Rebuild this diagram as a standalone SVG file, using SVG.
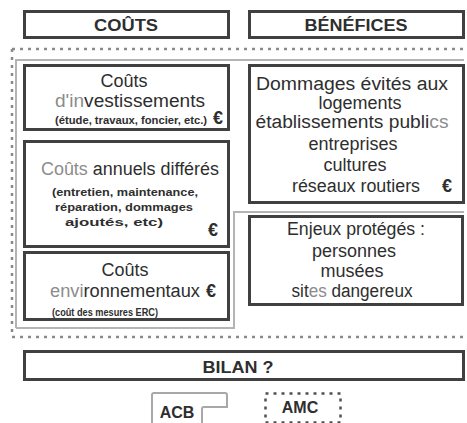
<svg xmlns="http://www.w3.org/2000/svg" width="467" height="423" viewBox="0 0 467 423">
<style>
text{font-family:"Liberation Sans",Arial,sans-serif;fill:#2e2e2e;text-anchor:middle}
.box{fill:#fff;stroke:#404040;stroke-width:3}
.hd{font-weight:bold;font-size:16px}
.t{font-size:18px}
.s{font-size:11px;font-weight:bold}
.eur{font-size:18px;font-weight:bold}
.lt{fill:#8c8c8c}
.frame{fill:none;stroke:#b4b4b4;stroke-width:2}
.dot{fill:none;stroke:#8a8a8a;stroke-width:2.5;stroke-dasharray:3 5}
</style>
<rect width="467" height="423" fill="#fff"/>
<g id="frames">
<path class="dot" d="M12,49 H465 M12,49 V337 M12,337 H465"/>
<path class="frame" d="M16,328 V60 H464 M16,328 H234 V212 H464"/>
</g>
<g id="couts-header">
<rect class="box" x="24.5" y="11.5" width="204" height="26"/>
<text class="hd" x="126" y="31" textLength="64" lengthAdjust="spacingAndGlyphs">COÛTS</text>
</g>
<g id="benefices-header">
<rect class="box" x="249.5" y="11.5" width="214" height="26"/>
<text class="hd" x="356" y="31" textLength="103" lengthAdjust="spacingAndGlyphs">BÉNÉFICES</text>
</g>
<g id="couts-investissement">
<rect class="box" x="24.5" y="65.5" width="204" height="64"/>
<text class="t" x="124" y="87" font-size="17">Coûts</text>
<text class="t" x="130" y="107" textLength="150" lengthAdjust="spacingAndGlyphs"><tspan class="lt">d'in</tspan>vestissements</text>
<text class="s" x="131" y="124" textLength="152" lengthAdjust="spacingAndGlyphs">(étude, travaux, foncier, etc.)</text>
<text class="eur" x="218" y="124">€</text>
</g>
<g id="couts-annuels">
<rect class="box" x="24.5" y="141.5" width="204" height="105"/>
<text class="t" x="130" y="175" textLength="178" lengthAdjust="spacingAndGlyphs"><tspan class="lt">Coûts</tspan> annuels différés</text>
<text class="s" x="125" y="196" textLength="146" lengthAdjust="spacingAndGlyphs">(entretien, maintenance,</text>
<text class="s" x="124" y="211" textLength="138" lengthAdjust="spacingAndGlyphs">réparation, dommages</text>
<text class="s" x="114" y="226" textLength="98" lengthAdjust="spacingAndGlyphs">ajoutés, etc)</text>
<text class="eur" x="213" y="236">€</text>
</g>
<g id="couts-environnementaux">
<rect class="box" x="24.5" y="252.5" width="204" height="67"/>
<text class="t" x="125" y="276" font-size="17">Coûts</text>
<text class="t" x="125" y="297" textLength="150" lengthAdjust="spacingAndGlyphs"><tspan class="lt">envi</tspan>ronnementaux</text>
<text class="eur" x="211" y="297">€</text>
<text class="s" x="105" y="316" textLength="106" lengthAdjust="spacingAndGlyphs">(coût des mesures ERC)</text>
</g>
<g id="dommages-evites">
<rect class="box" x="249.5" y="65.5" width="214" height="137"/>
<text class="t" x="352" y="90" textLength="192" lengthAdjust="spacingAndGlyphs">Dommages évités aux</text>
<text class="t" x="360" y="109">logements</text>
<text class="t" x="352" y="128" textLength="193" lengthAdjust="spacingAndGlyphs">établissements publi<tspan class="lt">cs</tspan></text>
<text class="t" x="353" y="150">entreprises</text>
<text class="t" x="355" y="171">cultures</text>
<text class="t" x="356" y="192" textLength="128" lengthAdjust="spacingAndGlyphs">réseaux routiers</text>
<text class="eur" x="447" y="192">€</text>
</g>
<g id="enjeux-proteges">
<rect class="box" x="249.5" y="216.5" width="213" height="88"/>
<text class="t" x="356" y="235" textLength="138" lengthAdjust="spacingAndGlyphs">Enjeux protégés :</text>
<text class="t" x="354" y="257">personnes</text>
<text class="t" x="352" y="277">musées</text>
<text class="t" x="352" y="297" textLength="121" lengthAdjust="spacingAndGlyphs">sit<tspan class="lt">es</tspan> dangereux</text>
</g>
<g id="bilan">
<rect class="box" x="24.5" y="351.5" width="439" height="28"/>
<text class="hd" x="238" y="373" textLength="71" lengthAdjust="spacingAndGlyphs">BILAN ?</text>
</g>
<g id="acb">
<path d="M152,424 V395 Q152,393 154,393 H225 Q227,393 227,395 V407 H204 Q202,407 202,409 V424" fill="none" stroke="#a8a8a8" stroke-width="2"/>
<text class="hd" x="177" y="418">ACB</text>
</g>
<g id="amc">
<rect x="265.5" y="393.5" width="75" height="29" fill="none" stroke="#505050" stroke-width="2.5" stroke-dasharray="3 5"/>
<text class="hd" x="300" y="413">AMC</text>
</g>
</svg>
